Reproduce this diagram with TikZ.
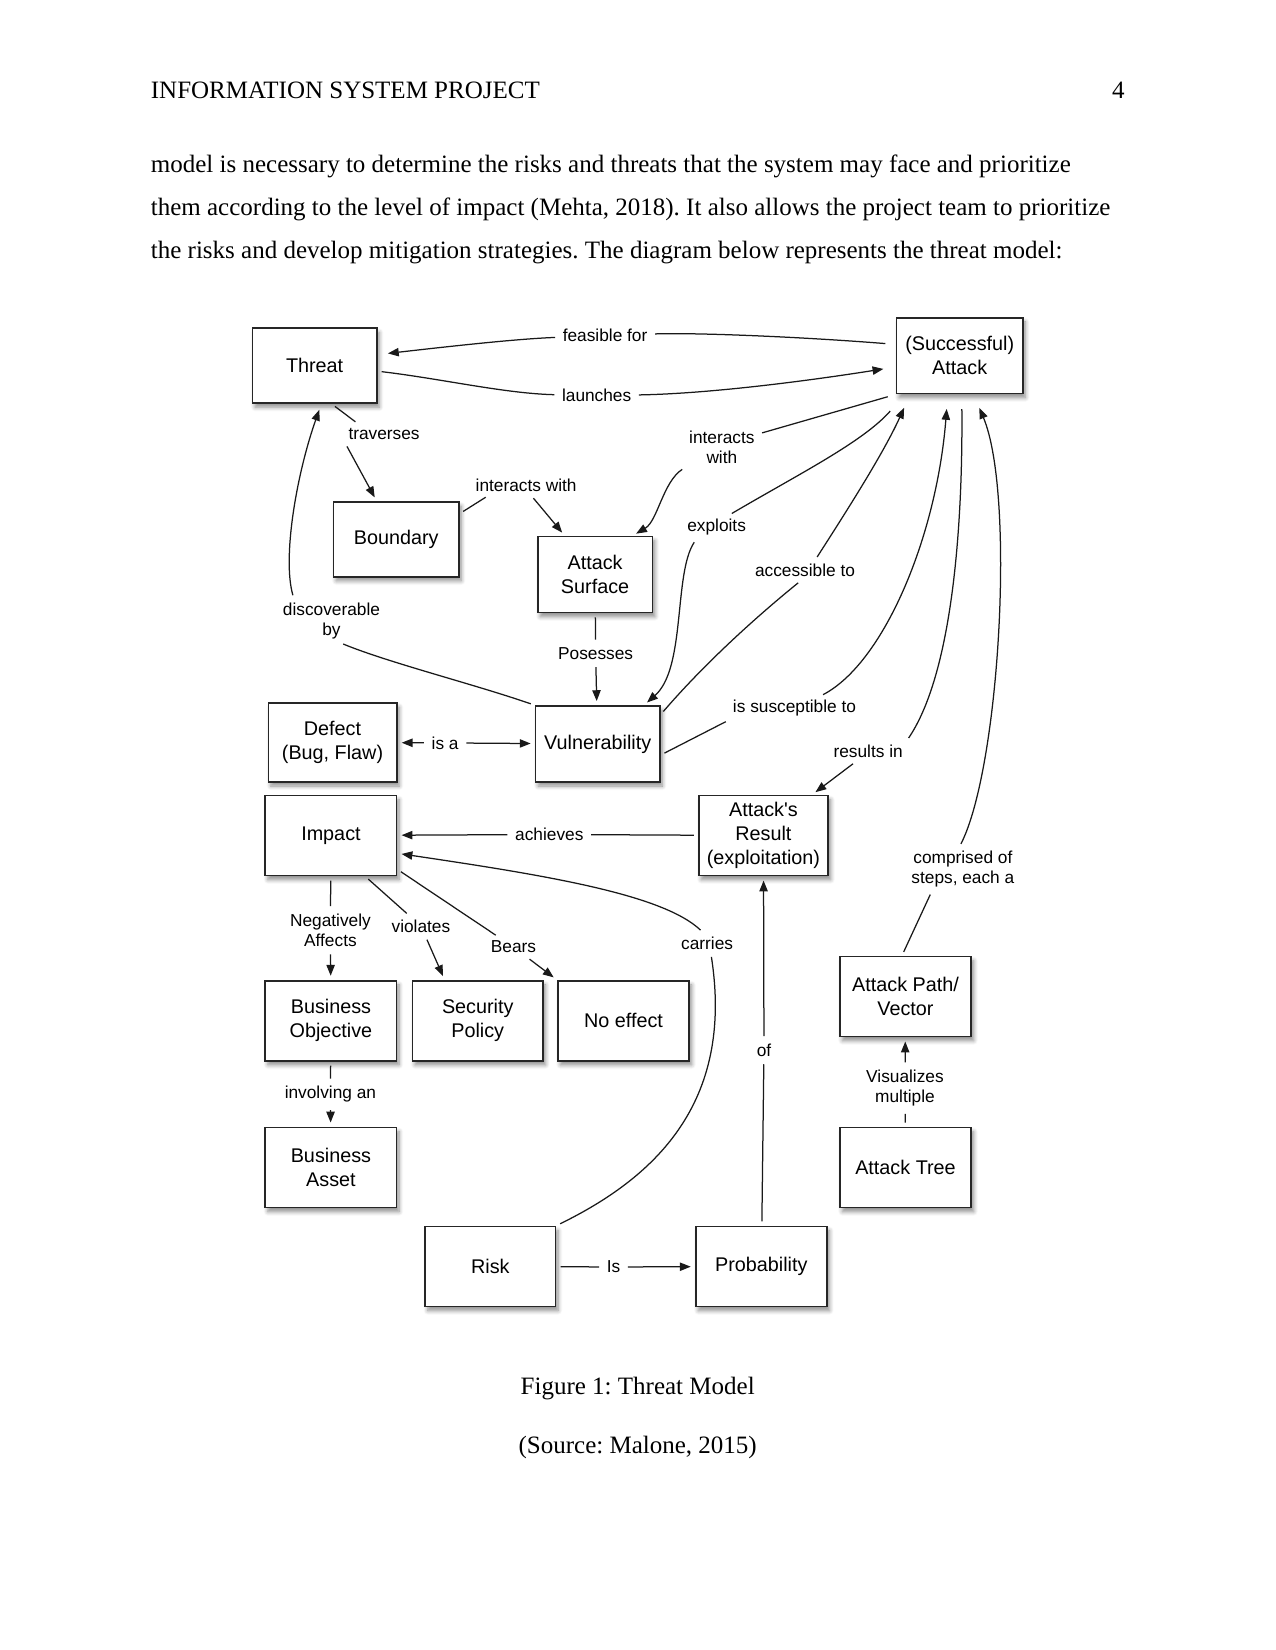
\documentclass[tikz,border=0pt]{standalone}
\usepackage{fontspec}
\setmainfont{Liberation Serif}
\newfontfamily\cmapfont{Liberation Sans}
\usetikzlibrary{arrows.meta,shadows,shadows.blur}
\frenchspacing

\begin{document}
\begin{tikzpicture}[
    x=0.5051pt, y=-0.5051pt,
    concept/.style={draw=black!85, line width=0.8pt, fill=white, align=center,
      font=\cmapfont\fontsize{9.5}{11.6}\selectfont, inner sep=1pt,
      minimum width=63pt, minimum height=38.4pt,
      blur shadow={shadow xshift=1.2pt, shadow yshift=-2pt,
        shadow blur radius=2pt, shadow blur steps=6, shadow opacity=45}},
    lbl/.style={font=\cmapfont\fontsize{8.3}{9.6}\selectfont, align=center, inner sep=1.5pt},
    link/.style={draw=black!90, line width=0.6pt, shorten <=2pt, shorten >=2pt},
    arr/.style={link, -{Triangle[length=5.2pt,width=4pt]}},
    body/.style={font=\fontsize{12}{14}\selectfont, inner sep=0pt}
  ]
    \useasboundingbox (0,0) rectangle (1212,1568);

    % ══ PAGE TEXT ═════════════════════════════════════════════════════════════
    \node[body, anchor=base west] (head) at (143,94) {INFORMATION SYSTEM PROJECT};
    \node[body, anchor=base east] (page) at (1069,94) {4};
    \node[body, anchor=base west] (line1) at (143,164)
      {model is necessary to determine the risks and threats that the system may face and prioritize};
    \node[body, anchor=base west] (line2) at (143,205)
      {them according to the level of impact (Mehta, 2018). It also allows the project team to prioritize};
    \node[body, anchor=base west] (line3) at (143,246)
      {the risks and develop mitigation strategies. The diagram below represents the threat model:};

    % ══ CONCEPTS ══════════════════════════════════════════════════════════════
    \node[concept, minimum width=59.6pt, minimum height=35.9pt] (threat) at (299,347.5) {Threat};
    \node[concept, minimum width=60.6pt, minimum height=36.4pt] (attack) at (912,338) {(Successful)\\Attack};
    \node[concept, minimum width=60.1pt, minimum height=35.9pt] (boundary) at (376.5,512.5) {Boundary};
    \node[concept, minimum width=55.1pt, minimum height=36.4pt] (surface) at (565.5,546) {Attack\\Surface};
    \node[concept, minimum width=61.6pt, minimum height=37.9pt] (defect) at (316,705.5) {Defect\\(Bug, Flaw)};
    \node[concept, minimum width=59.6pt, minimum height=36.4pt] (vuln) at (568,707) {Vulnerability};
    \node[concept] (impact) at (314.5,794) {Impact};
    \node[concept, minimum width=62.1pt] (result) at (725.5,794) {Attack's\\Result\\(exploitation)};
    \node[concept] (objective) at (314.5,970) {Business\\Objective};
    \node[concept, minimum width=62.6pt] (policy) at (454,970) {Security\\Policy};
    \node[concept] (noeffect) at (592.5,970) {No effect};
    \node[concept] (vector) at (860.5,947) {Attack Path/\\Vector};
    \node[concept] (asset) at (314.5,1109.5) {Business\\Asset};
    \node[concept] (tree) at (860.5,1109.5) {Attack Tree};
    \node[concept, minimum width=62.6pt] (risk) at (466,1203.5) {Risk};
    \node[concept] (prob) at (723.5,1203.5) {Probability};

    % ══ LINKING PHRASES ═══════════════════════════════════════════════════════
    \node[lbl] (lfeas) at (575,319) {feasible for};
    \node[lbl] (llaunch) at (567,376) {launches};
    \node[lbl] (ltrav) at (365,412) {traverses};
    \node[lbl] (linter) at (500,461) {interacts with};
    \node[lbl] (linter2) at (686,425) {interacts\\with};
    \node[lbl] (lexpl) at (681,501) {exploits};
    \node[lbl] (lacc) at (765,542) {accessible to};
    \node[lbl] (ldisc) at (315,590) {discoverable\\by};
    \node[lbl] (lposs) at (566,621) {Posesses};
    \node[lbl] (lisa) at (423,706) {is a};
    \node[lbl] (lsusc) at (755,673) {is susceptible to};
    \node[lbl] (lres) at (825,714) {results in};
    \node[lbl] (lach) at (522,793) {achieves};
    \node[lbl] (lcomp) at (915,826) {comprised of\\steps, each a};
    \node[lbl] (lneg) at (314,884) {Negatively\\Affects};
    \node[lbl] (lviol) at (400,880) {violates};
    \node[lbl] (lbears) at (488,900) {Bears};
    \node[lbl] (lcarr) at (672,896) {carries};
    \node[lbl] (lof) at (726,998) {of};
    \node[lbl] (linv) at (314,1040) {involving an};
    \node[lbl] (lvis) at (860,1034) {Visualizes\\multiple};
    \node[lbl] (lis) at (583,1204) {Is};

    % ══ CONNECTORS ════════════════════════════════════════════════════════════
    % threat <-> attack
    \draw[link, shorten <=5pt] (attack.170) .. controls (760,320) and (660,316) .. (lfeas);
    \draw[arr, shorten >=5pt] (lfeas) .. controls (490,322) and (420,330) .. (threat.10);
    \draw[link] (threat.-5) .. controls (420,360) and (480,374) .. (llaunch);
    \draw[arr, shorten >=6pt] (llaunch) .. controls (680,374) and (780,360) .. (attack.190);

    % upper left
    \draw[link] (threat.-66) -- (ltrav.160);
    \draw[arr] (ltrav.south west) -- (boundary.117);
    \draw[link] (boundary.22) -- (linter.195);
    \draw[arr] (linter.-65) -- (surface.128);

    % attack -> surface, vulnerability
    \draw[link, shorten <=4pt] (attack.south west) -- (linter2.20);
    \draw[arr] (linter2.south west) .. controls (630,458) and (625,495) .. (surface.46);
    \draw[link, shorten <=4pt] ([yshift=-5pt]attack.south west) .. controls (820,420) and (760,450) .. (lexpl.45);
    \draw[arr] (lexpl.-150) .. controls (640,545) and (652,635) .. (vuln.40);

    % vulnerability -> attack
    \draw[link] (vuln.25) .. controls (670,630) and (720,585) .. (lacc.250);
    \draw[arr, shorten >=7pt] (lacc.45) .. controls (805,485) and (840,430) .. (attack.218);
    \draw[link] (vuln.-10) -- (lsusc.south west);
    \draw[arr, shorten >=7pt] (lsusc.25) .. controls (840,630) and (890,510) .. (attack.253);

    % attack -> result, path -> attack
    \draw[link, shorten <=7pt] (attack.-87) .. controls (915,500) and (905,640) .. (lres.north east);
    \draw[arr] (lres.-140) -- (result.40);
    \draw[link] (vector.95) -- (lcomp.215);
    \draw[arr, shorten >=7pt] (lcomp.100) .. controls (950,730) and (965,470) .. (attack.-70);

    % vulnerability -> threat
    \draw[link] (vuln.north west) .. controls (450,650) and (370,630) .. (ldisc.-70);
    \draw[arr, shorten >=3pt] (ldisc.150) .. controls (268,530) and (282,450) .. (threat.-80);

    % middle column
    \draw[link] (surface) -- (lposs);
    \draw[arr] (lposs) -- (vuln);
    \draw[arr] (lisa) -- (defect);
    \draw[arr] (lisa) -- (vuln);
    \draw[link] (result) -- (lach);
    \draw[arr] (lach) -- (impact);

    % impact consequences
    \draw[link] (impact) -- (lneg);
    \draw[arr] (lneg) -- (objective);
    \draw[link] (impact.-50) -- (lviol);
    \draw[arr] (lviol) -- (policy.129);
    \draw[link] (impact.-27) -- (lbears);
    \draw[arr] (lbears) -- (noeffect.north west);
    \draw[link] (objective) -- (linv);
    \draw[arr] (linv) -- (asset);

    % risk
    \draw[link] (risk.north east) .. controls (620,1120) and (698,1050) .. (lcarr.-70);
    \draw[arr] (lcarr.110) .. controls (630,850) and (520,832) .. (impact.-15);
    \draw[link] (risk) -- (lis);
    \draw[arr] (lis) -- (prob);
    \draw[link] (prob) -- (lof);
    \draw[arr] (lof) -- (result);

    % attack tree
    \draw[link] (tree) -- (lvis);
    \draw[arr] (lvis) -- (vector);

    % ══ CAPTION ═══════════════════════════════════════════════════════════════
    \node[body, anchor=base] (fig) at (606,1325) {Figure 1: Threat Model};
    \node[body, anchor=base] (src) at (606,1381) {(Source: Malone, 2015)};

  \end{tikzpicture}
\end{document}
